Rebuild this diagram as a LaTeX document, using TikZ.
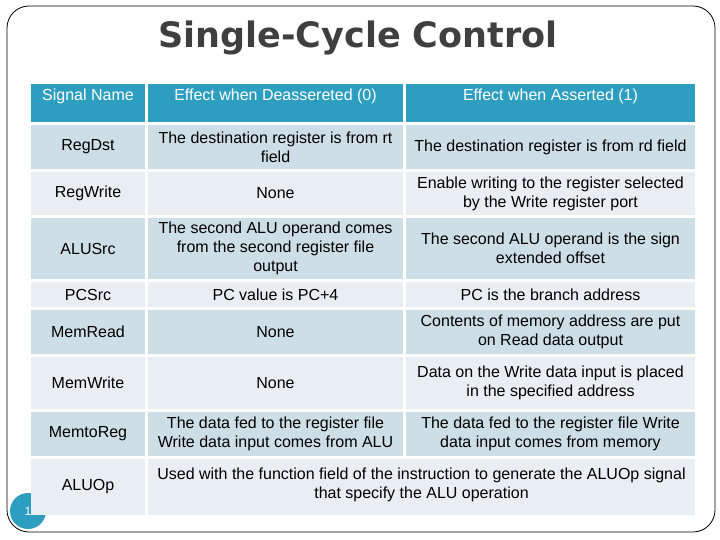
\documentclass[tikz,border=0pt]{standalone}
\usepackage{fontspec}
\setmainfont{Liberation Sans}
\newfontfamily\titlefont{DejaVu Sans}
\definecolor{headblue}{HTML}{2E9EC0}
\definecolor{rowdark}{HTML}{CEDEE6}
\definecolor{rowlight}{HTML}{E8EEF2}
\definecolor{titlegray}{HTML}{3F3F3F}
\begin{document}
\begin{tikzpicture}[x=1pt,y=-1pt]

    \tikzset{cell/.style={%
      rectangle,%
      inner sep=1pt,%
      align=center,%
      font=\fontsize{16}{19}\selectfont}%
    };

    \tikzset{headcell/.style={cell, fill=headblue, text=white}};

    \useasboundingbox (0,0) rectangle (720,540);

    %%%%%%%%%%%%%%%
    % frame       %
    %%%%%%%%%%%%%%%
    \draw [rounded corners=22pt, line width=0.8pt] (7,6) rectangle (715,532);
    \node [circle, fill=headblue, minimum size=36pt, inner sep=0pt, text=white,
      font=\fontsize{12}{14}\selectfont] (pagenum) at (28,511) {1};

    \node [font=\titlefont\bfseries\fontsize{35}{40}\selectfont, text=titlegray] (title) at (358,38) {Single-Cycle Control};

    %%%%%%%%%%%%%%%
    % header      %
    %%%%%%%%%%%%%%%
    \node [headcell, minimum width=114pt, minimum height=38pt] (h1) at (88,103) {};
    \node [headcell, anchor=north] at (88,88) {Signal Name};
    \node [headcell, minimum width=255pt, minimum height=38pt] (h2) at (275.5,103) {};
    \node [headcell, anchor=north] at (275.5,88) {Effect when Deassereted (0)};
    \node [headcell, minimum width=289pt, minimum height=38pt] (h3) at (550.5,103) {};
    \node [headcell, anchor=north] at (550.5,88) {Effect when Asserted (1)};

    %%%%%%%%%%%%%%%
    % rows        %
    %%%%%%%%%%%%%%%
    % name / top / bottom / colour / deasserted / asserted
    \foreach \nm/\ta/\tb/\col/\dea/\ass in {%
      RegDst/125/169/rowdark/{The destination register is  from rt\\field}/{The destination register is from rd field},%
      RegWrite/172/215/rowlight/None/{Enable writing to the register selected\\by the Write register port},%
      ALUSrc/218/279/rowdark/{The second ALU operand comes\\from the second register file\\output}/{The second ALU operand is the sign\\extended offset},%
      PCSrc/282/307/rowlight/{PC value is PC+4}/{PC is the branch address},%
      MemRead/310/354/rowdark/None/{Contents of memory address are put\\on Read data output},%
      MemWrite/357/409/rowlight/None/{Data on the Write data input is placed\\in the specified address},%
      MemtoReg/412/456/rowdark/{The data fed to the register file\\Write data input comes from ALU}/{The data fed to the register file Write\\data input comes from memory}} {
      \node [cell, fill=\col, minimum width=114pt, minimum height=\tb-\ta] (n\nm) at (88,{(\ta+\tb)/2}) {\nm};
      \node [cell, fill=\col, minimum width=255pt, minimum height=\tb-\ta] (d\nm) at (275.5,{(\ta+\tb)/2}) {\dea};
      \node [cell, fill=\col, minimum width=289pt, minimum height=\tb-\ta] (a\nm) at (550.5,{(\ta+\tb)/2}) {\ass};
    }

    \node [cell, fill=rowlight, minimum width=114pt, minimum height=56pt] (nALUOp) at (88,487) {};
    \node [cell] at (88,487) {ALUOp};
    \node [cell, fill=rowlight, minimum width=547pt, minimum height=56pt] (dALUOp) at (421.5,487) {};
    \node [cell, anchor=north] at (421.5,467) {Used with the function field of the instruction to generate the ALUOp signal\\that specify the ALU operation};

  \end{tikzpicture}
\end{document}
